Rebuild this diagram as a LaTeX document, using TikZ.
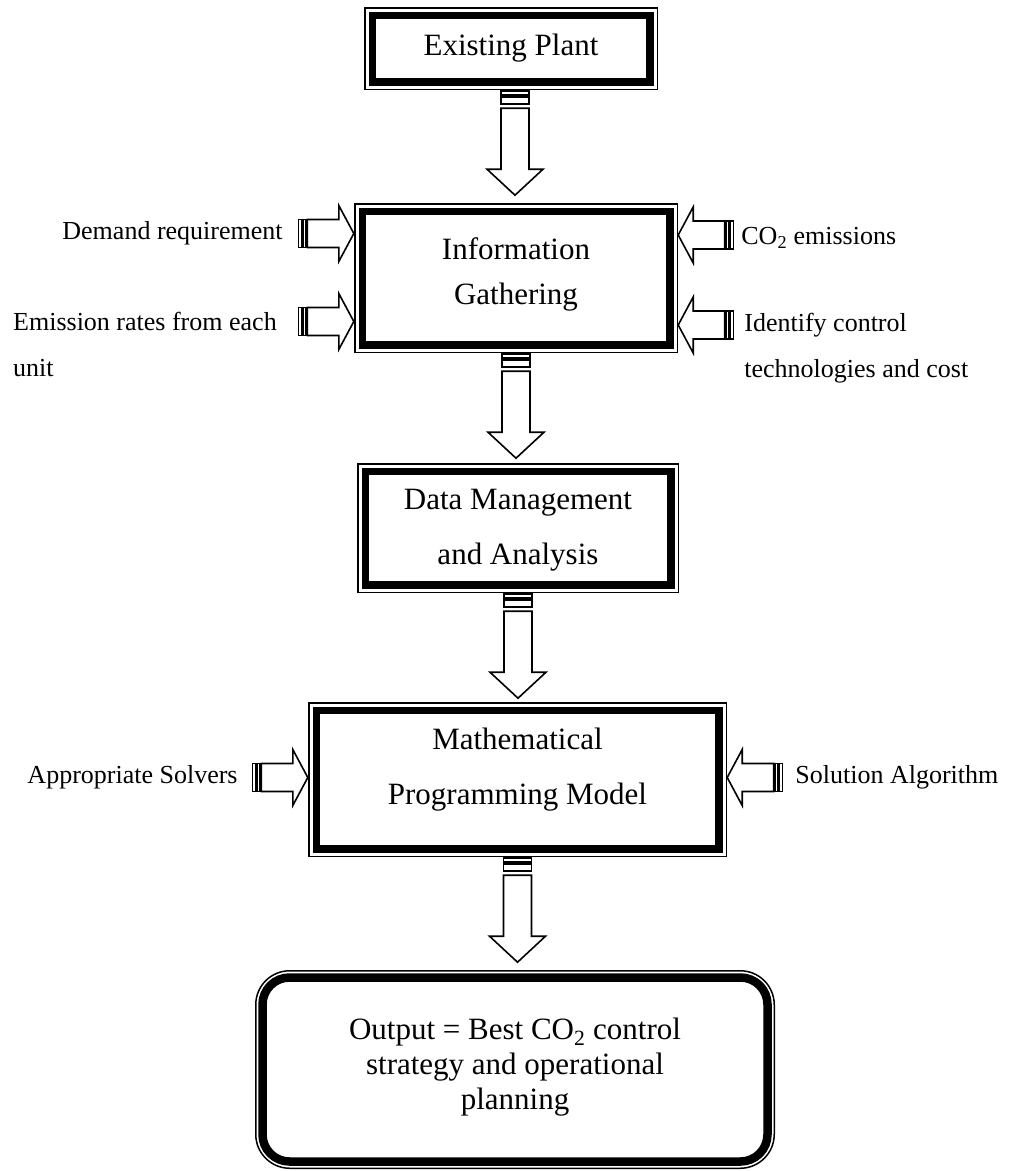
\documentclass[tikz,border=0pt]{standalone}
\usepackage{fontspec}
\setmainfont{Liberation Serif}
\usetikzlibrary{calc}

\tikzset{
  boxtext/.style={font=\fontsize{31}{55}\selectfont, align=center, inner sep=0pt},
  sidetext/.style={font=\fontsize{26}{46}\selectfont, inner sep=0pt},
  arrowline/.style={draw=black, fill=white, line width=1.6pt, line join=miter},
  % thin outer frame plus heavy inner frame
  framedbox/.style={draw=none, rectangle, inner sep=0pt,
    path picture={
      \draw[line width=1.5pt]
        ([shift={(0.75pt,-0.75pt)}]path picture bounding box.north west) rectangle
        ([shift={(-0.75pt,0.75pt)}]path picture bounding box.south east);
      \draw[line width=7.5pt]
        ([shift={(8.25pt,-8.25pt)}]path picture bounding box.north west) rectangle
        ([shift={(-8.25pt,8.25pt)}]path picture bounding box.south east);
    }},
  roundbox/.style={draw=none, rectangle, inner sep=0pt,
    path picture={
      \draw[line width=1.5pt, rounded corners=34pt]
        ([shift={(0.75pt,-0.75pt)}]path picture bounding box.north west) rectangle
        ([shift={(-0.75pt,0.75pt)}]path picture bounding box.south east);
      \draw[line width=8.5pt, rounded corners=27pt]
        ([shift={(7.5pt,-7.5pt)}]path picture bounding box.north west) rectangle
        ([shift={(-7.5pt,7.5pt)}]path picture bounding box.south east);
    }},
  % striped block arrows, tail at the origin, pointing along +x
  pics/bigstripe/.style={code={
    \draw[arrowline] (1,-14) rectangle (4.5,14);
    \draw[arrowline] (7,-14) rectangle (14,14);
    \draw[arrowline] (18,-14) -- (79,-14) -- (79,-28) -- (105,0)
      -- (79,28) -- (79,14) -- (18,14) -- cycle;
  }},
  pics/smallstripe/.style={code={
    \draw[arrowline] (0.8,-14) rectangle (4,14);
    \draw[arrowline] (5.5,-14) rectangle (8,14);
    \draw[arrowline] (9.5,-14) -- (41,-14) -- (41,-28) -- (56,0)
      -- (41,28) -- (41,14) -- (9.5,14) -- cycle;
  }},
}

\begin{document}
\begin{tikzpicture}[x=1pt,y=-1pt]
\useasboundingbox (0,0) rectangle (1014,1171);

% main chain of boxes
\node[framedbox, minimum width=294pt, minimum height=83pt] (plant) at (511,48.5) {};
\node[boxtext] (planttxt) at (plant.center) {Existing Plant};

\node[framedbox, minimum width=324pt, minimum height=150pt] (info) at (516,278) {};
\node[boxtext, font=\fontsize{31}{45}\selectfont] (infotxt) at ($(info.center)+(0,-4)$)
  {Information\\Gathering};

\node[framedbox, minimum width=322pt, minimum height=130pt] (data) at (518,528) {};
\node[boxtext] (datatxt) at ($(data.center)+(0,2)$) {Data Management\\and Analysis};

\node[framedbox, minimum width=419pt, minimum height=155pt] (model) at (517.5,779.5) {};
\node[boxtext] (modeltxt) at ($(model.center)+(0,-9.5)$)
  {Mathematical\\Programming Model};

\node[roundbox, minimum width=520pt, minimum height=199pt] (out) at (515,1069.5) {};
\node[boxtext, font=\fontsize{31}{35}\selectfont] (outtxt) at ($(out.center)+(0,-2)$)
  {Output = Best CO\textsubscript{2} control\\strategy and operational\\planning};

% downward arrows between boxes
\pic[rotate=-90] at ($(plant.south)+(4,0)$) {bigstripe};
\pic[rotate=-90] at (info.south) {bigstripe};
\pic[rotate=-90] at (data.south) {bigstripe};
\pic[rotate=-90] at (model.south) {bigstripe};

% side inputs
\pic at ($(info.west)+(-56,-44.5)$) {smallstripe};
\pic at ($(info.west)+(-56,43.5)$) {smallstripe};
\pic[rotate=180] at ($(info.east)+(56,-43)$) {smallstripe};
\pic[rotate=180] at ($(info.east)+(56,47)$) {smallstripe};
\pic at ($(model.west)+(-56,-2)$) {smallstripe};
\pic[rotate=180] at ($(model.east)+(56,-2)$) {smallstripe};

\node[sidetext, anchor=east] (demand) at ($(info.west)+(-71,-44.5)$) {Demand requirement};
\node[sidetext, anchor=west, align=left] (rates) at (13,344.5)
  {Emission rates from each\\unit};
\node[sidetext, anchor=west] (co2) at ($(info.east)+(63,-40)$) {CO\textsubscript{2} emissions};
\node[sidetext, anchor=west, align=left] (ident) at ($(info.east)+(66,70)$)
  {Identify control\\technologies and cost};
\node[sidetext, anchor=east] (solvers) at ($(model.west)+(-70,-2)$) {Appropriate Solvers};
\node[sidetext, anchor=west] (algo) at ($(model.east)+(68,-2)$) {Solution Algorithm};
\end{tikzpicture}
\end{document}
